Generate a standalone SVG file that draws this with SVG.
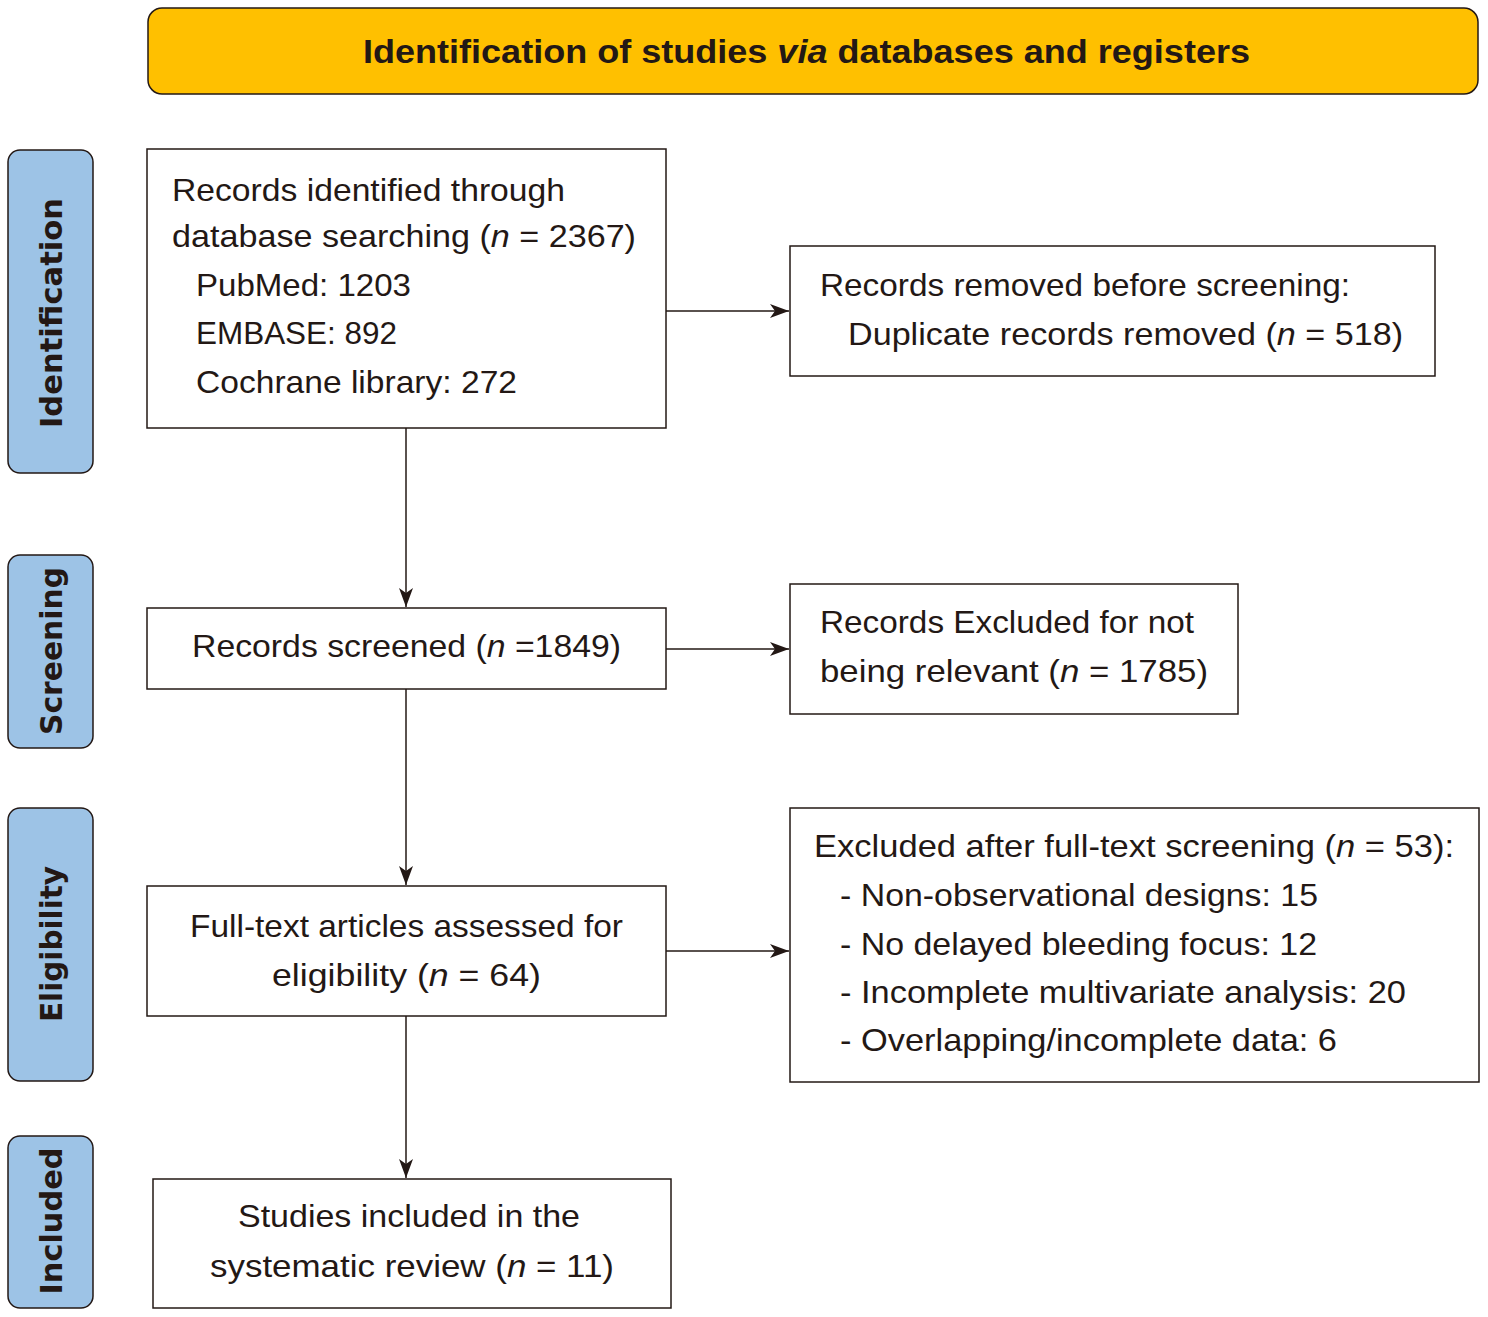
<svg xmlns="http://www.w3.org/2000/svg" width="1488" height="1317" viewBox="0 0 1488 1317">
<defs>
<marker id="ah" markerUnits="userSpaceOnUse" markerWidth="20" markerHeight="16" refX="19" refY="7" orient="auto">
<path d="M0,0 L19,7 L0,14 L5,7 Z" fill="#231815"/>
</marker>
<style>
.box{fill:#ffffff;stroke:#231815;stroke-width:1.5}
.side{fill:#9dc3e6;stroke:#231815;stroke-width:1.5}
.hdr{fill:#ffc000;stroke:#231815;stroke-width:1.5}
.t{font-family:"Liberation Sans",Arial,sans-serif;font-size:32px;fill:#231815}
.s{font-family:"DejaVu Sans",Verdana,sans-serif;font-size:31px;font-weight:bold;fill:#231815;text-anchor:middle}
.h{font-family:"Liberation Sans",Arial,sans-serif;font-size:33px;font-weight:bold;fill:#231815}
.i{font-style:italic}
.ln{stroke:#231815;stroke-width:1.5;fill:none;marker-end:url(#ah)}
</style>
</defs>
<rect width="1488" height="1317" fill="#ffffff"/>

<g id="header">
<rect class="hdr" x="148" y="8" width="1330" height="86" rx="14"/>
<text class="h" x="363" y="63" textLength="887" lengthAdjust="spacingAndGlyphs">Identification of studies <tspan class="i">via</tspan> databases and registers</text>
</g>

<g id="side-identification">
<rect class="side" x="8" y="150" width="85" height="323" rx="12"/>
<text class="s" transform="translate(62,313) rotate(-90)" textLength="230" lengthAdjust="spacingAndGlyphs">Identification</text>
</g>
<g id="side-screening">
<rect class="side" x="8" y="555" width="85" height="193" rx="12"/>
<text class="s" transform="translate(62,651) rotate(-90)" textLength="168" lengthAdjust="spacingAndGlyphs">Screening</text>
</g>
<g id="side-eligibility">
<rect class="side" x="8" y="808" width="85" height="273" rx="12"/>
<text class="s" transform="translate(62,944) rotate(-90)" textLength="156" lengthAdjust="spacingAndGlyphs">Eligibility</text>
</g>
<g id="side-included">
<rect class="side" x="8" y="1136" width="85" height="172" rx="12"/>
<text class="s" transform="translate(62,1221) rotate(-90)" textLength="147" lengthAdjust="spacingAndGlyphs">Included</text>
</g>

<g id="connectors">
<line class="ln" x1="406" y1="428" x2="406" y2="607"/>
<line class="ln" x1="406" y1="689" x2="406" y2="885"/>
<line class="ln" x1="406" y1="1016" x2="406" y2="1178"/>
<line class="ln" x1="666" y1="311" x2="789" y2="311"/>
<line class="ln" x1="666" y1="649" x2="789" y2="649"/>
<line class="ln" x1="666" y1="951" x2="789" y2="951"/>
</g>

<g id="identified">
<rect class="box" x="147" y="149" width="519" height="279"/>
<text class="t" x="172" y="201" textLength="393" lengthAdjust="spacingAndGlyphs">Records identified through</text>
<text class="t" x="172" y="247" textLength="464" lengthAdjust="spacingAndGlyphs">database searching (<tspan class="i">n</tspan> = 2367)</text>
<text class="t" x="196" y="296" textLength="215" lengthAdjust="spacingAndGlyphs">PubMed: 1203</text>
<text class="t" x="196" y="344" textLength="201" lengthAdjust="spacingAndGlyphs">EMBASE: 892</text>
<text class="t" x="196" y="393" textLength="321" lengthAdjust="spacingAndGlyphs">Cochrane library: 272</text>
</g>

<g id="removed">
<rect class="box" x="790" y="246" width="645" height="130"/>
<text class="t" x="820" y="296" textLength="530" lengthAdjust="spacingAndGlyphs">Records removed before screening:</text>
<text class="t" x="848" y="345" textLength="555" lengthAdjust="spacingAndGlyphs">Duplicate records removed (<tspan class="i">n</tspan> = 518)</text>
</g>

<g id="screened">
<rect class="box" x="147" y="608" width="519" height="81"/>
<text class="t" x="192" y="657" textLength="429" lengthAdjust="spacingAndGlyphs">Records screened (<tspan class="i">n</tspan> =1849)</text>
</g>

<g id="excluded">
<rect class="box" x="790" y="584" width="448" height="130"/>
<text class="t" x="820" y="633" textLength="374" lengthAdjust="spacingAndGlyphs">Records Excluded for not</text>
<text class="t" x="820" y="682" textLength="388" lengthAdjust="spacingAndGlyphs">being relevant (<tspan class="i">n</tspan> = 1785)</text>
</g>

<g id="fulltext">
<rect class="box" x="147" y="886" width="519" height="130"/>
<text class="t" x="190" y="937" textLength="433" lengthAdjust="spacingAndGlyphs">Full-text articles assessed for</text>
<text class="t" x="272" y="986" textLength="269" lengthAdjust="spacingAndGlyphs">eligibility (<tspan class="i">n</tspan> = 64)</text>
</g>

<g id="excluded-fulltext">
<rect class="box" x="790" y="808" width="689" height="274"/>
<text class="t" x="814" y="857" textLength="640" lengthAdjust="spacingAndGlyphs">Excluded after full-text screening (<tspan class="i">n</tspan> = 53):</text>
<text class="t" x="840" y="906" textLength="478" lengthAdjust="spacingAndGlyphs">- Non-observational designs: 15</text>
<text class="t" x="840" y="955" textLength="477" lengthAdjust="spacingAndGlyphs">- No delayed bleeding focus: 12</text>
<text class="t" x="840" y="1003" textLength="566" lengthAdjust="spacingAndGlyphs">- Incomplete multivariate analysis: 20</text>
<text class="t" x="840" y="1051" textLength="497" lengthAdjust="spacingAndGlyphs">- Overlapping/incomplete data: 6</text>
</g>

<g id="included">
<rect class="box" x="153" y="1179" width="518" height="129"/>
<text class="t" x="238" y="1227" textLength="342" lengthAdjust="spacingAndGlyphs">Studies included in the</text>
<text class="t" x="210" y="1277" textLength="404" lengthAdjust="spacingAndGlyphs">systematic review (<tspan class="i">n</tspan> = 11)</text>
</g>
</svg>
